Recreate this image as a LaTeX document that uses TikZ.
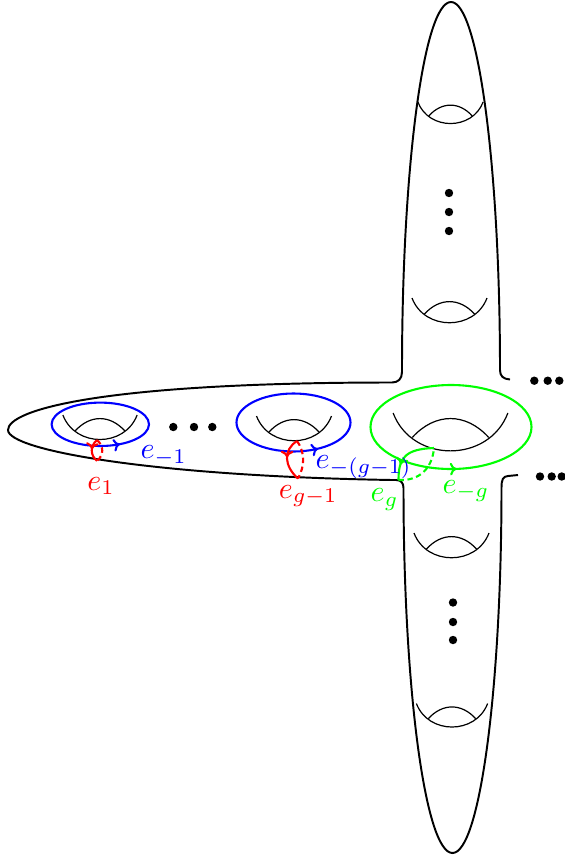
\documentclass[tikz,border=0pt]{standalone}
\usepackage{amsmath, amsfonts, amssymb}
\usetikzlibrary{decorations.markings, arrows.meta}

\tikzset{
  surface/.style={line width=0.65pt},
  hole/.style={thin},
  loopline/.style={line width=0.7pt},
  backside/.style={dash pattern=on 1.8pt off 1.2pt},
  arrowat/.style={postaction={decorate}, decoration={markings, mark=at position #1 with {\arrow{To[length=2.2pt, width=4.2pt]}}}},
  backarrowat/.style={postaction={decorate}, decoration={markings, mark=at position #1 with {\arrowreversed{To[length=2.2pt, width=4.2pt]}}}},
  lab/.style={anchor=base west, inner sep=0pt},
}

\begin{document}
\begin{tikzpicture}[x=0.3333pt, y=-0.3333pt]
\useasboundingbox (0,0) rectangle (564,857);

% the surface
\draw[surface] (510,379.5) .. controls (503,379) and (500,376) .. (500,370)
  .. controls (500,166.8) and (478.1,2) .. (451,2)
  .. controls (423.9,2) and (402,166.8) .. (402,370)
  -- (402,372) .. controls (402,379) and (398,382.5) .. (392,382.5)
  .. controls (100,382.5) and (8,410) .. (8,430)
  .. controls (8,450) and (150,476) .. (392,480)
  -- (396,480) .. controls (401,480) and (403.5,483) .. (403.5,488)
  .. controls (403.5,689.6) and (425.4,853) .. (452.5,853)
  .. controls (479.6,853) and (501.5,689.6) .. (501.5,488)
  .. controls (501.5,479) and (503,476.5) .. (508,476) -- (518,475);

% holes
\foreach \cx/\cy/\s in {450.5/102/0.87, 449.5/298/1, 451.5/533/1, 452/703.5/0.95,
                        100/415/0.99, 294/416/1, 450.5/413/1.53}
{
  \begin{scope}[shift={(\cx,\cy)}, scale=\s]
    \draw[hole] (-37.5,0) .. controls (-25,33) and (25,33) .. (37.5,0);
    \draw[hole] (-25,16) .. controls (-10,-0.5) and (10,-0.5) .. (25,16);
  \end{scope}
}

% dots
\foreach \p in {(449,193), (449,212), (449,231), (453,602.5), (453,622), (453,640),
                (173.3,427), (194,427), (212.3,427),
                (534.3,380.7), (547.7,380.7), (559.3,380.7),
                (540,476.5), (551.7,476.5), (561.7,476.5)}
  \fill \p circle (1.4pt);

% curves around the holes
\draw[loopline, blue, backarrowat=0.164] (100.3,424.3) ellipse (48.7 and 21.7);
\draw[loopline, blue, backarrowat=0.161] (293.5,422.5) ellipse (57 and 29);
\draw[loopline, green, backarrowat=0.236] (451,427) ellipse (80.5 and 42);

\coordinate (a1) at (97,440);
\coordinate (a2) at (97,461);
\coordinate (b1) at (297,441);
\coordinate (b2) at (298,478.5);
\coordinate (c1) at (434,448);
\coordinate (c2) at (398.5,480);

\draw[loopline, red, arrowat=0.45] (a1) .. controls (90,446) and (90,455) .. (a2);
\draw[loopline, red, backside] (a1) .. controls (104,446) and (104,455) .. (a2);
\draw[loopline, red, arrowat=0.45] (b1) .. controls (283,450) and (284,466) .. (b2);
\draw[loopline, red, backside] (b1) .. controls (305,452) and (305,466) .. (b2);
\draw[loopline, green, arrowat=0.72] (c1) .. controls (405,449) and (398.5,458) .. (c2);
\draw[loopline, green, backside] (c2) .. controls (418,481) and (432,470) .. (c1);

% labels
\node[lab, red] (e1) at (86.7,490) {$e_1$};
\node[lab, blue] (em1) at (140,458.5) {$e_{-1}$};
\node[lab, red] (egm1) at (278.3,498.3) {$e_{g-1}$};
\node[lab, blue] (emgm1) at (315,468.3) {$e_{-(g-1)}$};
\node[lab, green] (eg) at (370,501.7) {$e_g$};
\node[lab, green] (emg) at (442,493.3) {$e_{-g}$};
\end{tikzpicture}
\end{document}
